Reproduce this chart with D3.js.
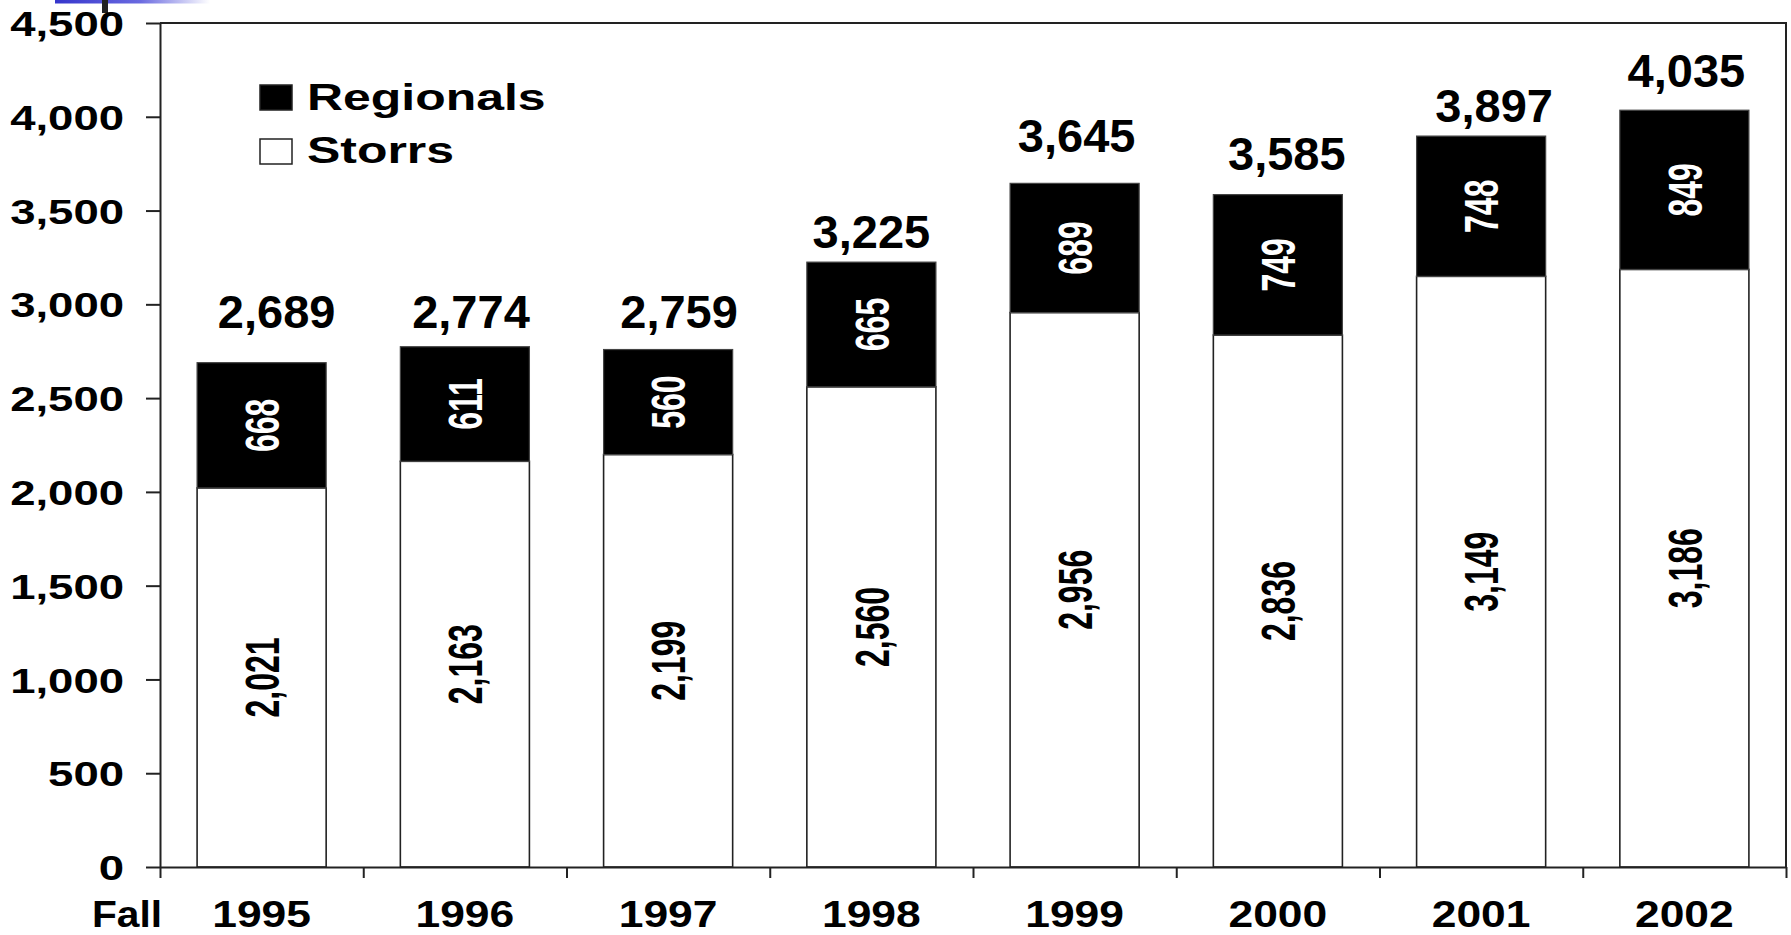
<!DOCTYPE html>
<html>
<head>
<meta charset="utf-8">
<script src="https://cdn.jsdelivr.net/npm/d3@7"></script>
<style>
  html, body { margin: 0; padding: 0; background: #fff; }
  svg { display: block; }
  text { font-family: "Liberation Sans", Arial, sans-serif; font-weight: bold; }
</style>
</head>
<body>
<svg id="chart" width="1791" height="935"></svg>
<script>
// ---- data ----
const years = ["1995", "1996", "1997", "1998", "1999", "2000", "2001", "2002"];
const storrs = [2021, 2163, 2199, 2560, 2956, 2836, 3149, 3186];
const regionals = [668, 611, 560, 665, 689, 749, 748, 849];
const totals = [2689, 2774, 2759, 3225, 3645, 3585, 3897, 4035];
// level (in data units) at which each total label sits, as placed in the original
const totalLabelLevel = [2874, 2874, 2874, 3300, 3812, 3716, 3972, 4159];
// sideways shift of each total label, as a fraction of the category step
const totalLabelShift = [0.074, 0.03, 0.054, 0, 0.01, 0.044, 0.064, 0.01];
const yTicks = [0, 500, 1000, 1500, 2000, 2500, 3000, 3500, 4000, 4500];
const seriesNames = ["Regionals", "Storrs"];
const xTitle = "Fall";

// ---- layout ----
const svg = d3.select("#chart");
const pLeft = 160, pRight = 1786, pTop = 23, pBottom = 867;

const x = d3.scaleBand().domain(years).range([pLeft, pRight])
  .paddingInner(0.365).paddingOuter(0.1825);
const y = d3.scaleLinear().domain([0, 4500]).range([pBottom, pTop]);
const fmt = d3.format(",");

// decorative slide artefacts (top-left)
const defs = svg.append("defs");
const grad = defs.append("linearGradient").attr("id", "blueFade");
grad.append("stop").attr("offset", "0%").attr("stop-color", "#3535cc");
grad.append("stop").attr("offset", "55%").attr("stop-color", "#6a6ae0");
grad.append("stop").attr("offset", "100%").attr("stop-color", "#ffffff");
svg.append("rect").attr("x", 55).attr("y", 0).attr("width", 155).attr("height", 3.5)
  .attr("fill", "url(#blueFade)");
svg.append("rect").attr("x", 102).attr("y", 0).attr("width", 6).attr("height", 13)
  .attr("fill", "#222");

// plot frame (top and right borders)
svg.append("path")
  .attr("d", `M${pLeft},${pTop}H${pRight}V${pBottom}`)
  .attr("fill", "none").attr("stroke", "#222").attr("stroke-width", 2);

// bars
const idx = d3.range(years.length);
const bars = svg.append("g");
bars.selectAll("rect.storrs").data(idx).join("rect")
  .attr("class", "storrs")
  .attr("x", i => x(years[i]))
  .attr("width", x.bandwidth())
  .attr("y", i => y(storrs[i]))
  .attr("height", i => y(0) - y(storrs[i]))
  .attr("fill", "#fff").attr("stroke", "#222").attr("stroke-width", 1.6);
bars.selectAll("rect.reg").data(idx).join("rect")
  .attr("class", "reg")
  .attr("x", i => x(years[i]))
  .attr("width", x.bandwidth())
  .attr("y", i => y(storrs[i] + regionals[i]))
  .attr("height", i => y(storrs[i]) - y(storrs[i] + regionals[i]))
  .attr("fill", "#000").attr("stroke", "#444").attr("stroke-width", 1.2);

// inner rotated labels
const cx = i => x(years[i]) + x.bandwidth() / 2;
svg.append("g").selectAll("text.sl").data(idx).join("text")
  .attr("class", "sl")
  .attr("transform", i => `translate(${cx(i)},${y(storrs[i] / 2)}) scale(1.5,1) rotate(-90)`)
  .attr("text-anchor", "middle").attr("dy", "0.36em")
  .attr("font-size", 32).attr("fill", "#000")
  .text(i => fmt(storrs[i]));
svg.append("g").selectAll("text.rl").data(idx).join("text")
  .attr("class", "rl")
  .attr("transform", i => `translate(${cx(i)},${y(storrs[i] + regionals[i] / 2)}) scale(1.5,1) rotate(-90)`)
  .attr("text-anchor", "middle").attr("dy", "0.36em")
  .attr("font-size", 32).attr("fill", "#fff")
  .text(i => fmt(regionals[i]));

// total labels
svg.append("g").selectAll("text.tl").data(idx).join("text")
  .attr("class", "tl")
  .attr("x", i => cx(i) + totalLabelShift[i] * x.step())
  .attr("y", i => y(totalLabelLevel[i]))
  .attr("text-anchor", "middle")
  .attr("font-size", 47).attr("fill", "#000")
  .text(i => fmt(totals[i]));

// y axis
const yAxis = svg.append("g").attr("transform", `translate(${pLeft},0)`)
  .call(d3.axisLeft(y).tickValues(yTicks).tickSize(14).tickSizeOuter(0).tickFormat(fmt));
yAxis.select(".domain").attr("stroke", "#222").attr("stroke-width", 2);
yAxis.selectAll(".tick line").attr("stroke", "#222").attr("stroke-width", 2);
yAxis.selectAll(".tick text")
  .attr("x", 0).attr("dy", "0.36em")
  .attr("transform", "translate(-36,0) scale(1.3,1)")
  .attr("text-anchor", "end")
  .attr("font-size", 35).attr("font-family", null).attr("fill", "#000");

// x axis: baseline with ticks on category boundaries
const xb = d3.scaleLinear().domain([0, years.length]).range([pLeft, pRight]);
const xAxis = svg.append("g").attr("transform", `translate(0,${pBottom})`)
  .call(d3.axisBottom(xb).tickValues(d3.range(years.length + 1)).tickSize(11).tickSizeOuter(0).tickFormat(""));
xAxis.select(".domain").attr("stroke", "#222").attr("stroke-width", 2);
xAxis.selectAll(".tick line").attr("stroke", "#222").attr("stroke-width", 2);

// x labels
const xLab = svg.append("g").attr("transform", `translate(0,${pBottom})`)
  .call(d3.axisBottom(x).tickSize(0).tickSizeOuter(0));
xLab.select(".domain").remove();
xLab.selectAll(".tick text")
  .attr("y", 0).attr("dy", null)
  .attr("transform", "translate(0,60) scale(1.2,1)")
  .attr("text-anchor", "middle")
  .attr("font-size", 37).attr("font-family", null).attr("fill", "#000");

svg.append("text")
  .attr("transform", "translate(162,927) scale(1.1,1)")
  .attr("text-anchor", "end").attr("font-size", 37).attr("fill", "#000")
  .text(xTitle);

// legend
const legend = svg.append("g");
const legFill = ["#000", "#fff"];
const legRows = [0, 1];
legend.selectAll("rect").data(legRows).join("rect")
  .attr("x", 260).attr("y", i => 85 + i * 54)
  .attr("width", 32).attr("height", 25)
  .attr("fill", i => legFill[i]).attr("stroke", "#222").attr("stroke-width", 1.5);
legend.selectAll("text").data(legRows).join("text")
  .attr("transform", i => `translate(307,${110 + i * 53}) scale(1.35,1)`)
  .attr("font-size", 37).attr("fill", "#000")
  .text(i => seriesNames[i]);
</script>
</body>
</html>
